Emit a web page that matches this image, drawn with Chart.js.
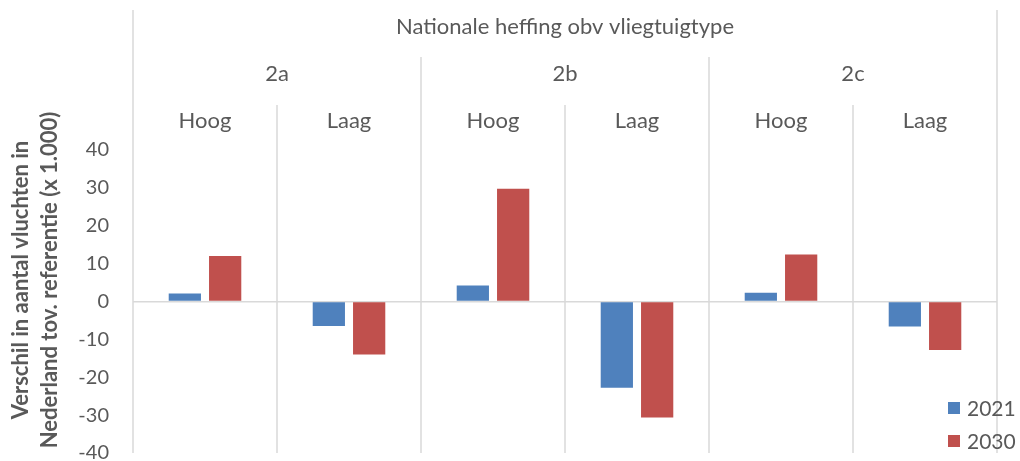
<!DOCTYPE html>
<html>
<head>
<meta charset="utf-8">
<script src="https://cdn.jsdelivr.net/npm/chart.js@4.4.1/dist/chart.umd.min.js"></script>
<style>
  html, body { margin: 0; padding: 0; background: #fff; }
  #wrap { width: 1020px; height: 461px; }
</style>
</head>
<body>
<div id="wrap"><canvas id="grafico" width="1020" height="461"></canvas></div>
<script>
// data
const categorias = ["Hoog", "Laag", "Hoog", "Laag", "Hoog", "Laag"];
const groepen = ["2a", "2b", "2c"];
const kop = "Nationale heffing obv vliegtuigtype";
const jaren = ["2021", "2030"];
const waarden2021 = [2.1, -6.5, 4.2, -22.8, 2.3, -6.6];
const waarden2030 = [12.0, -14.0, 29.8, -30.6, 12.4, -12.8];
const asTitel = ["Verschil in aantal vluchten in", "Nederland tov. referentie (x 1.000)"];

const fuente = "Lato, 'Open Sans', sans-serif";
const gris = "#595959";
const lineaGris = "#d9d9d9";

// header with the three category levels and the category dividers
const cabecera = {
  id: "cabecera",
  beforeDatasetsDraw(chart) {
    const ctx = chart.ctx;
    const area = chart.chartArea;
    const n = categorias.length;
    const paso = (area.right - area.left) / n;
    const porGrupo = n / groepen.length;
    ctx.save();
    ctx.strokeStyle = lineaGris;
    ctx.lineWidth = 1.5;
    for (let i = 0; i <= n; i++) {
      const x = area.left + i * paso;
      let y0 = 105;
      if (i === 0 || i === n) y0 = 10;
      else if (i % porGrupo === 0) y0 = 57;
      ctx.beginPath();
      ctx.moveTo(x, y0);
      ctx.lineTo(x, area.bottom);
      ctx.stroke();
    }
    ctx.restore();
  },
  afterDraw(chart) {
    const ctx = chart.ctx;
    const area = chart.chartArea;
    const n = categorias.length;
    const paso = (area.right - area.left) / n;
    const porGrupo = n / groepen.length;
    ctx.save();
    ctx.fillStyle = gris;
    ctx.font = "22px " + fuente;
    ctx.textAlign = "center";
    ctx.textBaseline = "middle";

    ctx.fillText(kop, (area.left + area.right) / 2, 27);
    groepen.forEach((g, i) => {
      const x0 = area.left + i * porGrupo * paso;
      ctx.fillText(g, x0 + porGrupo * paso / 2, 74);
    });
    categorias.forEach((c, i) => {
      ctx.fillText(c, area.left + i * paso + paso / 2, 121);
    });

    // y title
    ctx.font = "bold 22px " + fuente;
    asTitel.forEach((t, i) => {
      ctx.save();
      ctx.translate(21 + i * 29, 280);
      ctx.rotate(-Math.PI / 2);
      ctx.fillText(t, 0, 0);
      ctx.restore();
    });

    // legend
    ctx.font = "21px " + fuente;
    ctx.textAlign = "left";
    chart.data.datasets.forEach((ds, i) => {
      const y = 408 + i * 33;
      ctx.fillStyle = ds.backgroundColor;
      ctx.fillRect(948, y - 6, 12, 12);
      ctx.fillStyle = gris;
      ctx.fillText(ds.label, 967, y + 1);
    });
    ctx.restore();
  }
};

const config = {
  type: "bar",
  data: {
    labels: categorias,
    datasets: [
      { label: jaren[0], data: waarden2021, backgroundColor: "#4f81bd" },
      { label: jaren[1], data: waarden2030, backgroundColor: "#c0504d" }
    ]
  },
  options: {
    responsive: false,
    animation: false,
    layout: { padding: { top: 150, right: 23, bottom: 8, left: 0 } },
    datasets: { bar: { categoryPercentage: 0.56, barPercentage: 0.8 } },
    plugins: { legend: { display: false }, tooltip: { enabled: false } },
    scales: {
      x: { display: false },
      y: {
        min: -40,
        max: 40,
        afterFit(scale) {
          scale.width = 133;
          scale.paddingTop = 0;
          scale.paddingBottom = 0;
        },
        ticks: {
          stepSize: 10,
          color: gris,
          padding: 24,
          font: { family: fuente, size: 20 }
        },
        grid: {
          drawTicks: false,
          lineWidth: 1.5,
          color: (c) => (c.tick && c.tick.value === 0 ? lineaGris : "rgba(0,0,0,0)")
        },
        border: { display: false }
      }
    }
  },
  plugins: [cabecera]
};

new Chart(document.getElementById("grafico"), config);
</script>
</body>
</html>
